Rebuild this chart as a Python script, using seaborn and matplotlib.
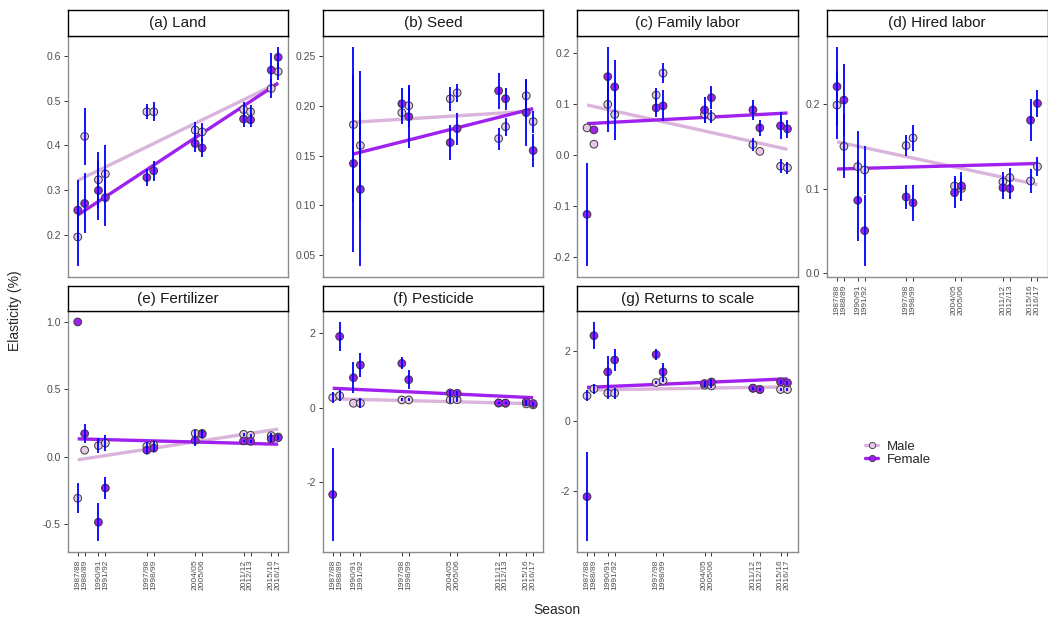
# Gender-specific production elasticities by season, 7 facets

import numpy as np
import pandas as pd
import matplotlib
matplotlib.use('Agg')
import matplotlib.pyplot as plt
from matplotlib.lines import Line2D
import seaborn as sns

nan = np.nan

seasons = ['1987/88', '1988/89', '1990/91', '1991/92', '1997/98', '1998/99',
           '2004/05', '2005/06', '2011/12', '2012/13', '2015/16', '2016/17']
years = [1987, 1988, 1990, 1991, 1997, 1998, 2004, 2005, 2011, 2012, 2015, 2016]

land_male = [0.195, 0.420, 0.323, 0.336, 0.475, 0.475, 0.434, 0.430, 0.480, 0.475, 0.527, 0.565]
land_male_se = [0.065, 0.063, 0.063, 0.065, 0.017, 0.021, 0.018, 0.020, 0.016, 0.016, 0.022, 0.018]
land_female = [0.255, 0.270, 0.299, 0.283, 0.328, 0.343, 0.404, 0.394, 0.459, 0.457, 0.568, 0.597]
land_female_se = [0.067, 0.067, 0.066, 0.063, 0.018, 0.022, 0.019, 0.020, 0.019, 0.016, 0.038, 0.023]

seed_male = [nan, nan, 0.181, 0.160, 0.193, 0.200, 0.207, 0.213, 0.167, 0.179, 0.210, 0.184]
seed_male_se = [nan, nan, 0.078, 0.075, 0.011, 0.021, 0.012, 0.009, 0.011, 0.009, 0.017, 0.011]
seed_female = [nan, nan, 0.142, 0.116, 0.202, 0.189, 0.163, 0.177, 0.215, 0.207, 0.193, 0.155]
seed_female_se = [nan, nan, 0.089, 0.077, 0.016, 0.031, 0.018, 0.016, 0.018, 0.011, 0.033, 0.017]

family_male = [0.053, 0.021, 0.099, 0.079, 0.117, 0.160, 0.080, 0.075, 0.020, 0.007, -0.022, -0.025]
family_male_se = [nan, nan, 0.054, 0.050, 0.014, 0.020, 0.018, 0.013, 0.013, nan, 0.014, 0.012]
family_female = [-0.116, 0.049, 0.153, 0.133, 0.092, 0.096, 0.088, 0.112, 0.088, 0.053, 0.057, 0.051]
family_female_se = [0.101, nan, 0.058, 0.052, 0.017, 0.030, 0.025, 0.022, 0.019, 0.015, 0.026, 0.018]

hired_male = [0.199, 0.150, 0.126, 0.122, 0.151, 0.160, 0.103, 0.100, 0.108, 0.113, 0.109, 0.126]
hired_male_se = [0.040, 0.038, 0.042, 0.029, 0.012, 0.015, 0.012, 0.015, 0.012, 0.011, 0.014, 0.011]
hired_female = [0.221, 0.205, 0.086, 0.050, 0.090, 0.083, 0.095, 0.103, 0.101, 0.100, 0.181, 0.201]
hired_female_se = [0.047, 0.043, 0.048, 0.042, 0.014, 0.021, 0.018, 0.017, 0.014, 0.012, 0.025, 0.016]

fert_male = [-0.310, 0.047, 0.081, 0.099, 0.076, 0.086, 0.172, 0.172, 0.165, 0.158, 0.155, 0.145]
fert_male_se = [0.110, nan, 0.058, 0.059, 0.030, 0.028, 0.025, 0.025, 0.010, 0.012, 0.020, 0.015]
fert_female = [1.000, 0.170, -0.488, -0.234, 0.047, 0.062, 0.121, 0.165, 0.116, 0.113, 0.130, 0.140]
fert_female_se = [nan, 0.070, 0.140, 0.084, 0.030, 0.028, 0.040, 0.030, 0.010, 0.012, 0.020, 0.015]

pest_male = [0.277, 0.330, 0.125, 0.125, 0.214, 0.214, 0.214, 0.220, 0.130, 0.125, 0.107, 0.080]
pest_male_se = [0.15, 0.14, nan, 0.13, 0.04, 0.04, 0.07, 0.07, 0.03, 0.03, 0.06, 0.04]
pest_female = [-2.330, 1.920, 0.812, 1.152, 1.196, 0.759, 0.402, 0.393, 0.134, 0.130, 0.160, 0.116]
pest_female_se = [1.25, 0.39, 0.41, 0.31, 0.16, 0.26, 0.08, 0.07, 0.03, 0.03, 0.06, 0.04]

rts_male = [0.717, 0.915, 0.792, 0.790, 1.094, 1.150, 1.020, 1.000, 0.930, 0.896, 0.896, 0.896]
rts_male_se = [0.16, 0.15, 0.17, 0.15, 0.05, 0.05, 0.06, 0.06, 0.04, 0.04, 0.05, 0.05]
rts_female = [-2.150, 2.425, 1.396, 1.736, 1.887, 1.396, 1.066, 1.110, 0.934, 0.896, 1.113, 1.085]
rts_female_se = [1.26, 0.39, 0.44, 0.32, 0.16, 0.26, 0.08, 0.08, 0.04, 0.04, 0.06, 0.05]

panels = [
    ('(a) Land', land_male, land_male_se, land_female, land_female_se,
     [0.2, 0.3, 0.4, 0.5, 0.6], '{:.1f}'),
    ('(b) Seed', seed_male, seed_male_se, seed_female, seed_female_se,
     [0.05, 0.10, 0.15, 0.20, 0.25], '{:.2f}'),
    ('(c) Family labor', family_male, family_male_se, family_female, family_female_se,
     [-0.2, -0.1, 0.0, 0.1, 0.2], '{:.1f}'),
    ('(d) Hired labor', hired_male, hired_male_se, hired_female, hired_female_se,
     [0.0, 0.1, 0.2], '{:.1f}'),
    ('(e) Fertilizer', fert_male, fert_male_se, fert_female, fert_female_se,
     [-0.5, 0.0, 0.5, 1.0], '{:.1f}'),
    ('(f) Pesticide', pest_male, pest_male_se, pest_female, pest_female_se,
     [-2, 0, 2], '{:.0f}'),
    ('(g) Returns to scale', rts_male, rts_male_se, rts_female, rts_female_se,
     [-2, 0, 2], '{:.0f}'),
]

# colours
male_fill = '#E8C8E8'
male_line = '#DAB4DA'
female_fill = '#A020F0'
female_line = '#A020F0'
err_col = '#0000FF'

sns.set_style('white')
plt.rcParams['font.family'] = ['Liberation Sans', 'DejaVu Sans']
plt.rcParams['axes.unicode_minus'] = False

fig = plt.figure(figsize=(10.48, 6.22), dpi=100)
W, H = 1048, 622

col_left = [67.7, 322.7, 577, 827]
panel_w = 220.5
row_top = [36, 311]
panel_h = 241
strip_h = [26, 25]

for i, (title, m, m_se, f, f_se, yticks, fmt) in enumerate(panels):
    r, c = divmod(i, 4)
    x0 = col_left[c]
    y0 = row_top[r]
    ax = fig.add_axes([x0 / W, 1 - (y0 + panel_h) / H, panel_w / W, panel_h / H])
    sax = fig.add_axes([x0 / W, 1 - y0 / H, panel_w / W, strip_h[r] / H])

    df = pd.DataFrame({
        'year': years * 2,
        'value': list(m) + list(f),
        'se': list(m_se) + list(f_se),
        'sex': ['Male'] * len(years) + ['Female'] * len(years),
    })

    # trend lines (OLS)
    for sex, lc in [('Male', male_line), ('Female', female_line)]:
        sub = df[df['sex'] == sex]
        sns.regplot(data=sub, x='year', y='value', ax=ax, scatter=False, ci=None,
                    line_kws={'color': lc, 'lw': 2.4, 'zorder': 2,
                              'solid_capstyle': 'butt'})

    sns.scatterplot(data=df, x='year', y='value', hue='sex', ax=ax,
                    palette={'Male': male_fill, 'Female': female_fill},
                    s=31, edgecolor='#3a3a3a', linewidth=0.7, legend=False, zorder=3)

    eb = df.dropna(subset=['value', 'se'])
    ax.errorbar(eb['year'], eb['value'], yerr=eb['se'], fmt='none',
                ecolor=err_col, elinewidth=1.3, capsize=0, zorder=4)

    ax.set_xlim(1985.55, 2017.45)
    ax.margins(y=0.05)
    ax.set_yticks(yticks)
    ax.set_yticklabels([fmt.format(v) for v in yticks])
    ax.set_xlabel('')
    ax.set_ylabel('')

    bottom = (r == 1) or (c == 3)
    if bottom:
        ax.set_xticks(years)
        ax.set_xticklabels(seasons, rotation=90, fontsize=6, color='#4D4D4D')
        ax.tick_params(axis='x', length=3, width=0.7, color='#333333', pad=2.5)
    else:
        ax.set_xticks([])

    ax.tick_params(axis='y', labelsize=7.5, labelcolor='#4D4D4D', length=3,
                   width=0.7, color='#333333', pad=2, left=True)
    ax.tick_params(axis='x', bottom=bottom)
    for sp in ax.spines.values():
        sp.set_color('#8C8C8C')
        sp.set_linewidth(1.0)

    sax.set_xticks([])
    sax.set_yticks([])
    sax.set_facecolor('white')
    for sp in sax.spines.values():
        sp.set_color('black')
        sp.set_linewidth(1.0)
    sax.text(0.5, 0.5, title, ha='center', va='center', fontsize=11,
             color='#1A1A1A', transform=sax.transAxes)

fig.text(0.014, 0.5, 'Elasticity (%)', rotation=90, ha='center', va='center',
         fontsize=10)
fig.text(557 / W, 1 - 610 / H, 'Season', ha='center', va='center', fontsize=10)

handles = [
    Line2D([], [], color=male_line, lw=2.4, marker='o', markersize=4.5,
           markerfacecolor=male_fill, markeredgecolor='#3a3a3a', markeredgewidth=0.6),
    Line2D([], [], color=female_line, lw=2.4, marker='o', markersize=4.5,
           markerfacecolor=female_fill, markeredgecolor='#3a3a3a', markeredgewidth=0.6),
]
fig.legend(handles, ['Male', 'Female'], loc='center left',
           bbox_to_anchor=(860 / W, 1 - 453 / H), frameon=False, fontsize=9.5,
           handlelength=1.0, handletextpad=0.6, labelspacing=0.05, borderaxespad=0)

fig.savefig('out.png', dpi=100, facecolor='white')
